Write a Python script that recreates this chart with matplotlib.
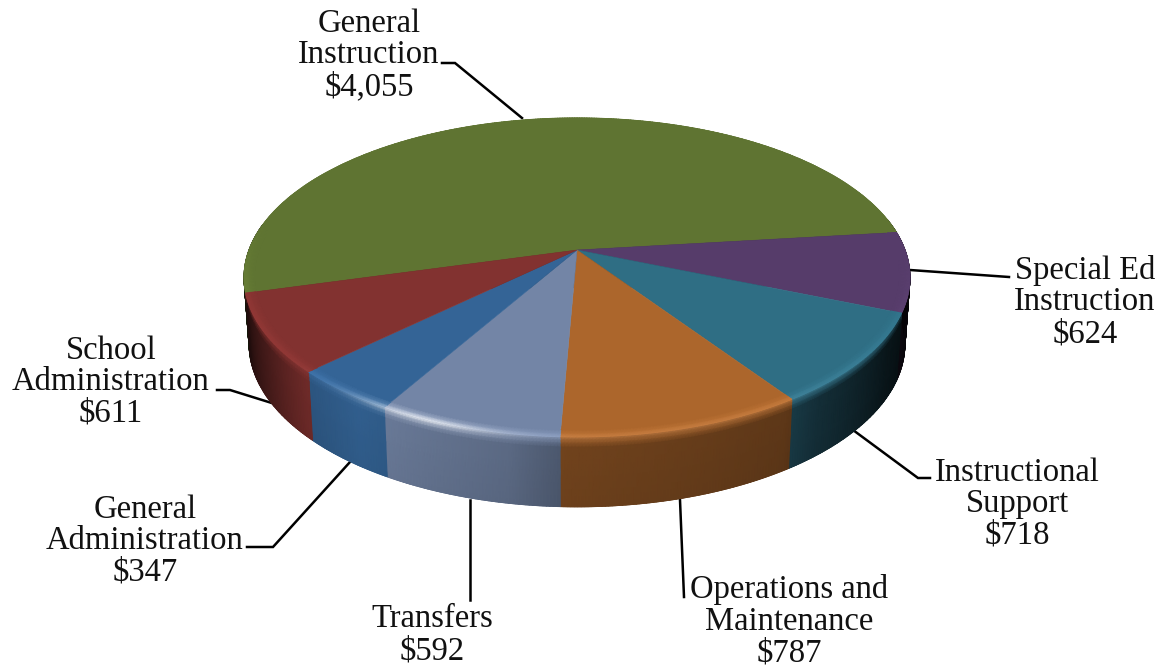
import numpy as np
import matplotlib
matplotlib.use("Agg")
import matplotlib.pyplot as plt
from matplotlib.patches import Polygon

categories = ["General\nInstruction", "Special Ed\nInstruction", "Instructional\nSupport",
              "Operations and\nMaintenance", "Transfers", "General\nAdministration",
              "School\nAdministration"]
values = [4055, 624, 718, 787, 592, 347, 611]
colors = [(95, 116, 50), (86, 60, 106), (47, 110, 132), (172, 102, 44),
          (115, 133, 166), (52, 100, 150), (130, 50, 48)]
label_pos = [(369, 55), (1085, 302), (1017, 504), (789, 621), (432, 635), (145, 541), (111, 382)]
leaders = [[(442, 63), (455, 63), (522, 118)],
           [(910, 270), (1009, 277)],
           [(853, 430), (918, 478), (930, 478)],
           [(680, 500), (684, 597)],
           [(470, 500), (470, 600)],
           [(350, 462), (273, 547), (247, 547)],
           [(275, 404), (230, 390), (217, 390)]]

START = 195.4
CX, K = 577.0, 0.172
TOP = dict(ax=328.0, ay=154.8, y0=250.0)
BOT = dict(ax=323.0, ay=158.0, y0=316.0)


def proj(th, r, ax, ay, y0):
    t = np.radians(th)
    X, Y = r * np.cos(t), r * np.sin(t)
    w = 1 + K * Y
    return CX + ax * X / w, y0 - ay * Y / w


def norm_angle(th):
    return np.where(th > 90, th - 360, th)


def side_factor(th):
    return np.interp(norm_angle(th), [-190, -165, -150, -137, -125, -100, -92, -57, -50, -30, -10, 10],
                     [.10, .25, .55, .85, .95, .80, .66, .55, .42, .20, .08, .05])


def highlight(th):
    n = norm_angle(th)
    return 0.75 * np.exp(-((n + 113) / 12.0) ** 2) + 0.08 * np.exp(-((n + 75) / 35.0) ** 2)


def front(th):
    n = norm_angle(th)
    return np.clip(-n / 40.0, 0, 1) * np.clip((n + 190) / 30.0, 0, 1)


fig = plt.figure(figsize=(11.61, 6.71), dpi=100)
ax = fig.add_axes([0, 0, 1, 1])
ax.set_xlim(0, 1161)
ax.set_ylim(671, 0)
ax.axis("off")

sweeps = 360.0 * np.array(values) / sum(values)
ends = START - np.cumsum(sweeps)
starts = ends + sweeps

for a, b, col in zip(starts, ends, colors):
    base = np.array(col) / 255.0
    ths = np.linspace(a, b, max(6, int((a - b) * 2)))

    # side wall
    keep = ths[(ths <= 12) | (ths >= 170)]
    if len(keep) >= 2:
        vs = np.array([0, .04, .09, .15, .5, 1.0])
        T, V = np.meshgrid(keep, vs)
        xt, yt = proj(T, 1, **TOP)
        xb, yb = proj(T, 1, **BOT)
        X = xt + (xb - xt) * V
        Y = yt + (yb - yt) * V
        F = side_factor(T)
        H = highlight(T)
        mix = np.clip(1 - V / 0.15, 0, 1)
        fr = front(T)
        C = base[None, None, :] * (F + (1.0 - F) * mix * fr * 0.95)[..., None] * (1 - 0.05 * V)[..., None]
        C = C + (1 - C) * (H * mix ** 2)[..., None]
        poly = list(zip(xt[0], yt[0])) + list(zip(xb[-1][::-1], yb[-1][::-1]))
        edge = np.clip(base * float(np.mean(F)), 0, 1)
        ax.add_patch(Polygon(poly, closed=True, facecolor=edge, edgecolor=edge, lw=0.6, zorder=2))
        ax.pcolormesh(X, Y, np.clip(C, 0, 1), shading="gouraud", zorder=2.5)

    # top face
    xs, ys = proj(ths, 1.0, **TOP)
    pts = [(CX, TOP["y0"])] + list(zip(xs, ys))
    ax.add_patch(Polygon(pts, closed=True, facecolor=base, edgecolor=base, lw=0.4, zorder=3))

    # bevel along the rim
    rs = np.array([.97, .988, 1.0])
    T, R = np.meshgrid(ths, rs)
    X, Y = proj(T, R, **TOP)
    m = (R - rs[0]) / (rs[-1] - rs[0])
    H = highlight(T)
    fr = front(T)
    C = base[None, None, :] * (1 + 0.12 * m * fr)[..., None]
    C = C + (1 - C) * (H * m ** 2 * fr)[..., None]
    ax.pcolormesh(X, Y, np.clip(C, 0, 1), shading="gouraud", zorder=4)

for pts in leaders:
    xs, ys = zip(*pts)
    ax.plot(xs, ys, color="black", lw=1.8, zorder=1, solid_joinstyle="miter")

for cat, val, (x, y) in zip(categories, values, label_pos):
    ax.text(x, y, f"{cat}\n${val:,}", ha="center", va="center", family="Liberation Serif",
            fontsize=23.5, color="#111111", linespacing=1.05, zorder=6)

fig.savefig("out.png", dpi=100, facecolor="white")
